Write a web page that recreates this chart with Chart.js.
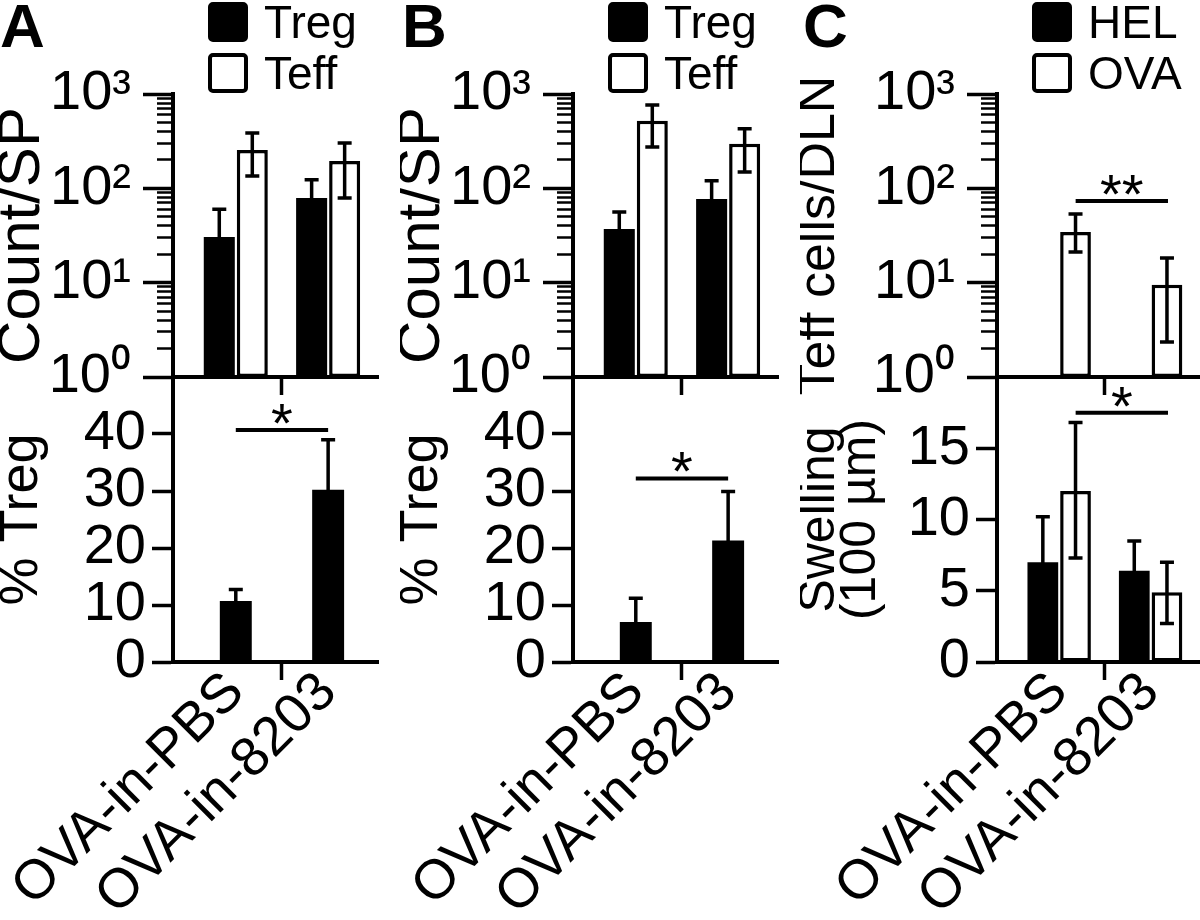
<!DOCTYPE html>
<html>
<head>
<meta charset="utf-8">
<title>Treg / Teff counts and swelling</title>
<script src="https://cdn.jsdelivr.net/npm/chart.js@4.4.1/dist/chart.umd.min.js"></script>
<style>
  body { margin: 0; width: 1200px; height: 920px; background: #fff; position: relative; overflow: hidden; }
  .pane { position: absolute; }
  .letter { position: absolute; font: bold 62px "Liberation Sans", Arial, sans-serif; line-height: 1; }
</style>
</head>
<body>
<div class="letter" style="left:0;top:-5px">A</div>
<div class="letter" style="left:402px;top:-5px">B</div>
<div class="letter" style="left:803px;top:-5px">C</div>

<canvas class="pane" id="aTop" width="400" height="420" style="left:0;top:0"></canvas>
<canvas class="pane" id="bTop" width="400" height="420" style="left:400px;top:0"></canvas>
<canvas class="pane" id="cTop" width="400" height="420" style="left:800px;top:0"></canvas>
<canvas class="pane" id="aBot" width="400" height="580" style="left:0;top:340px"></canvas>
<canvas class="pane" id="bBot" width="400" height="580" style="left:400px;top:340px"></canvas>
<canvas class="pane" id="cBot" width="400" height="580" style="left:800px;top:340px"></canvas>

<script>
const FONT = '"Liberation Sans", Arial, sans-serif';
Chart.defaults.font.family = FONT;
Chart.defaults.color = "#000";

// categories and tick labels
const groups = ["OVA-in-PBS", "OVA-in-8203"];
const logTicks = [1, 10, 100, 1000];
const logTickLabels = ["10\u2070", "10\u00b9", "10\u00b2", "10\u00b3"];
const pctTicks = [0, 10, 20, 30, 40];
const swellTicks = [0, 5, 10, 15];

// A: count per spleen
const aTreg = [30.5, 79];
const aTregLo = [2, 35];
const aTregHi = [60, 123];
const aTeff = [255, 195];
const aTeffLo = [135, 79];
const aTeffHi = [387, 303];
// A: % Treg
const aPct = [10.7, 30.2];
const aPctLo = [8.7, 21.5];
const aPctHi = [12.7, 39];

// B: count per spleen
const bTreg = [37, 77];
const bTregLo = [18, 34];
const bTregHi = [56, 120];
const bTeff = [520, 296];
const bTeffLo = [275, 149];
const bTeffHi = [766, 427];
// B: % Treg
const bPct = [7.0, 21.3];
const bPctLo = [2.8, 12.6];
const bPctHi = [11.2, 29.9];

// C: Teff cells per DLN
const cHelCount = [null, null];
const cOvaCount = [34.5, 9.5];
const cOvaCountLo = [21.2, 2.35];
const cOvaCountHi = [53.5, 18.3];
// C: swelling (100 um)
const cHelSwell = [7.0, 6.4];
const cHelSwellLo = [3.8, 4.3];
const cHelSwellHi = [10.2, 8.5];
const cOvaSwell = [12, 4.9];
const cOvaSwellLo = [7.3, 2.7];
const cOvaSwellHi = [16.8, 7.0];

// significance bars: from, to, height, mark
const aSig = [0, 1, 40.7, "*"];
const bSig = [0, 1, 32.2, "*"];
const cCountSig = [0.18, 1.19, 73.5, "**"];
const cSwellSig = [0.18, 1.19, 17.5, "*"];

// minor log ticks 2..9 in each decade
const minorTicks = [];
for (const d of [1, 10, 100]) for (let k = 2; k <= 9; k++) minorTicks.push(k * d);

// error bars from dataset.errLo / errHi
const errorBars = {
    id: "errorBars",
    afterDatasetsDraw(chart) {
        const ctx = chart.ctx;
        const y = chart.scales.y;
        ctx.save();
        ctx.strokeStyle = "#000";
        ctx.lineWidth = 3.5;
        chart.data.datasets.forEach((ds, di) => {
            chart.getDatasetMeta(di).data.forEach((bar, i) => {
                if (ds.errHi[i] == null) return;
                const top = y.getPixelForValue(ds.errHi[i]);
                const bot = y.getPixelForValue(ds.errLo[i]);
                ctx.beginPath();
                ctx.moveTo(bar.x, top); ctx.lineTo(bar.x, bot);
                ctx.moveTo(bar.x - 7, top); ctx.lineTo(bar.x + 7, top);
                ctx.moveTo(bar.x - 7, bot); ctx.lineTo(bar.x + 7, bot);
                ctx.stroke();
            });
        });
        ctx.restore();
    }
};

// significance line + stars
const sigBar = {
    id: "sigBar",
    afterDraw(chart, args, opts) {
        if (!opts.mark) return;
        const { x, y } = chart.scales;
        const x1 = x.getPixelForValue(opts.from);
        const x2 = x.getPixelForValue(opts.to);
        const yy = y.getPixelForValue(opts.at);
        const ctx = chart.ctx;
        ctx.save();
        ctx.strokeStyle = "#000";
        ctx.lineWidth = 4;
        ctx.beginPath();
        ctx.moveTo(x1, yy); ctx.lineTo(x2, yy);
        ctx.stroke();
        ctx.fillStyle = "#000";
        ctx.font = "56px " + FONT;
        ctx.textAlign = "center";
        ctx.textBaseline = "alphabetic";
        ctx.fillText(opts.mark, (x1 + x2) / 2, yy + 12);
        ctx.restore();
    }
};

// two-row legend with square swatches
const boxLegend = {
    id: "boxLegend",
    afterDraw(chart, args, opts) {
        if (!opts.show) return;
        const ctx = chart.ctx;
        const left = chart.chartArea.left + 35;
        ctx.save();
        ctx.font = "46px " + FONT;
        ctx.textBaseline = "alphabetic";
        chart.data.datasets.forEach((ds, i) => {
            const top = 2 + i * 51;
            ctx.beginPath();
            if (ctx.roundRect) ctx.roundRect(left + 2, top + 2, 36, 36, 3);
            else ctx.rect(left + 2, top + 2, 36, 36);
            ctx.fillStyle = ds.backgroundColor;
            ctx.fill();
            ctx.lineWidth = 4;
            ctx.strokeStyle = "#000";
            ctx.stroke();
            ctx.fillStyle = "#000";
            ctx.fillText(ds.label, left + 56, top + 36);
        });
        ctx.restore();
    }
};

function bars(label, vals, lo, hi, filled, paired) {
    return {
        label,
        data: vals.map((v, i) => ({ x: i, y: v })),
        errLo: lo,
        errHi: hi,
        backgroundColor: filled ? "#000" : "#fff",
        borderColor: "#000",
        borderWidth: filled ? 0 : 3.5,
        borderSkipped: false,
        categoryPercentage: paired ? 1.43 : 0.736,
        barPercentage: 0.94
    };
}

function xScale(labelled) {
    return {
        type: "linear", min: -0.68, max: 1.54, bounds: "data", offset: false,
        afterBuildTicks: s => { s.ticks = [0, 0.5, 1].map(v => ({ value: v })); },
        afterFit: s => { s.height = labelled ? 258 : 18; s.paddingLeft = 0; s.paddingRight = 0; },
        grid: {
            offset: false, drawOnChartArea: false, tickLength: 18, tickWidth: 3.5,
            tickColor: c => (c.tick && c.tick.value === 0.5 ? "#000" : "rgba(0,0,0,0)")
        },
        border: { color: "#000", width: 4 },
        ticks: {
            display: labelled, autoSkip: false, minRotation: 45, maxRotation: 45, padding: -20,
            font: { size: 55 },
            callback: v => (v === 0 ? groups[0] : v === 1 ? groups[1] : "")
        }
    };
}

function logScales(axisWidth, title, titleSize) {
    return {
        x: xScale(false),
        y: {
            type: "logarithmic", position: "left", weight: 1, min: 1, max: 1000,
            afterBuildTicks: s => { s.ticks = logTicks.map(v => ({ value: v })); },
            afterFit: s => { s.width = axisWidth; s.paddingTop = 0; s.paddingBottom = 0; },
            grid: { drawOnChartArea: false, tickLength: 30, tickWidth: 3.5, tickColor: "#000" },
            border: { color: "#000", width: 4 },
            ticks: { padding: 12, font: { size: 56 }, callback: v => logTickLabels[logTicks.indexOf(v)] },
            title: { display: true, text: title, font: { size: titleSize, lineHeight: 0.76 }, padding: 0 }
        },
        yMinor: {
            type: "logarithmic", position: "left", weight: 0, min: 1, max: 1000,
            afterBuildTicks: s => { s.ticks = minorTicks.map(v => ({ value: v })); },
            afterFit: s => { s.width = 0; s.paddingTop = 0; s.paddingBottom = 0; },
            grid: { drawOnChartArea: false, tickLength: 16, tickWidth: 2.5, tickColor: "#000" },
            border: { display: false },
            ticks: { display: false }
        }
    };
}

function linScales(axisWidth, max, tickList, title, titleSize) {
    return {
        x: xScale(true),
        y: {
            type: "linear", position: "left", min: 0, max: max,
            afterBuildTicks: s => { s.ticks = tickList.map(v => ({ value: v })); },
            afterFit: s => { s.width = axisWidth; s.paddingTop = 0; s.paddingBottom = 0; },
            grid: { drawOnChartArea: false, tickLength: 21, tickWidth: 3.5, tickColor: "#000" },
            border: { color: "#000", width: 4 },
            ticks: { padding: 6, font: { size: 56 } },
            title: { display: true, text: title, font: { size: titleSize, lineHeight: 0.82 }, padding: 0 }
        }
    };
}

function makeChart(id, datasets, scales, padding, legend, sig) {
    return new Chart(document.getElementById(id), {
        type: "bar",
        data: { datasets },
        options: {
            responsive: false,
            animation: false,
            events: [],
            layout: { padding },
            scales,
            plugins: {
                legend: { display: false },
                tooltip: { enabled: false },
                boxLegend: { show: legend },
                sigBar: sig ? { from: sig[0], to: sig[1], at: sig[2], mark: sig[3] } : {}
            }
        },
        plugins: [errorBars, sigBar, boxLegend]
    });
}

// Panel A
makeChart("aTop", [
    bars("Treg", aTreg, aTregLo, aTregHi, true, true),
    bars("Teff", aTeff, aTeffLo, aTeffHi, false, true)
], logScales(173, "Count/SP", 60), { top: 94, bottom: 25, right: 22 }, true, null);

makeChart("aBot", [
    bars("Treg", aPct, aPctLo, aPctHi, true, false)
], linScales(173, 50, pctTicks, "% Treg", 54), { top: 37, right: 22 }, false, aSig);

// Panel B
makeChart("bTop", [
    bars("Treg", bTreg, bTregLo, bTregHi, true, true),
    bars("Teff", bTeff, bTeffLo, bTeffHi, false, true)
], logScales(173, "Count/SP", 60), { top: 94, bottom: 25, right: 22 }, true, null);

makeChart("bBot", [
    bars("Treg", bPct, bPctLo, bPctHi, true, false)
], linScales(173, 50, pctTicks, "% Treg", 54), { top: 37, right: 22 }, false, bSig);

// Panel C
makeChart("cTop", [
    bars("HEL", cHelCount, [null, null], [null, null], true, true),
    bars("OVA", cOvaCount, cOvaCountLo, cOvaCountHi, false, true)
], logScales(197, "Teff cells/DLN", 52), { top: 94, bottom: 25, right: 0 }, true, cCountSig);

makeChart("cBot", [
    bars("HEL", cHelSwell, cHelSwellLo, cHelSwellHi, true, true),
    bars("OVA", cOvaSwell, cOvaSwellLo, cOvaSwellHi, false, true)
], linScales(197, 20, swellTicks, ["Swelling", "(100 \u00b5m)"], 50), { top: 37, right: 0 }, false, cSwellSig);
</script>
</body>
</html>
